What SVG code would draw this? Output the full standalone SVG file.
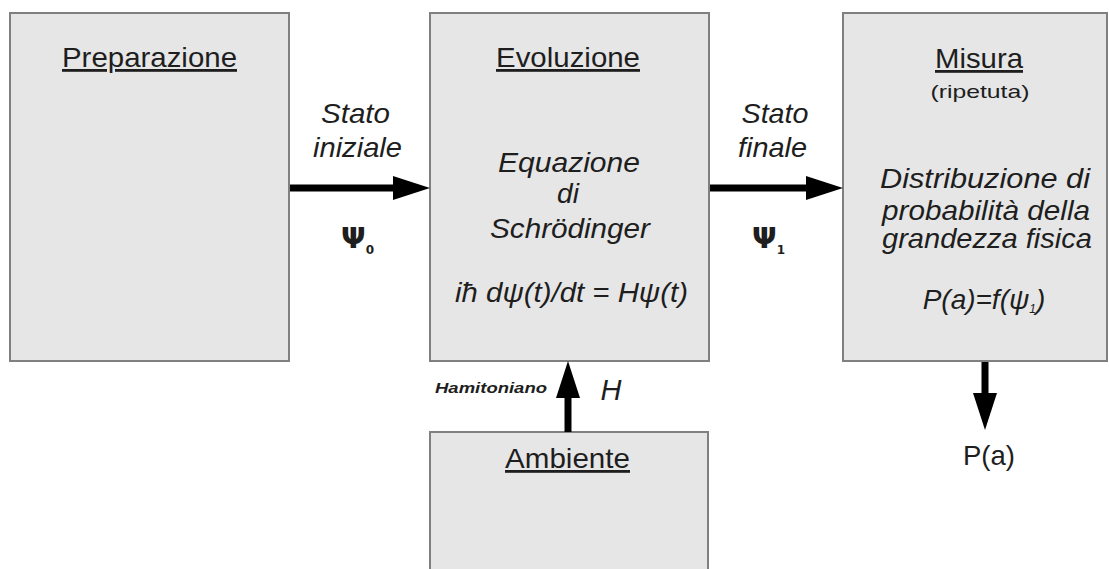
<svg xmlns="http://www.w3.org/2000/svg" width="1109" height="569" viewBox="0 0 1109 569">
<style>
  .box { fill: #e6e6e6; stroke: #808080; stroke-width: 2; }
  .t { font-family: "Liberation Sans", Arial, sans-serif; fill: #1e1e1e; text-anchor: middle; }
  .title { font-size: 28px; text-decoration: underline; }
  .it { font-size: 28px; font-style: italic; }
  .psi { font-family: "DejaVu Sans", "Liberation Sans", sans-serif; fill: #1e1e1e; font-weight: bold; }
  .conn { stroke: #000; stroke-width: 7; fill: none; marker-end: url(#head); }
</style>
<defs>
  <marker id="head" viewBox="0 0 37 24" refX="0" refY="12" markerWidth="37" markerHeight="24" markerUnits="userSpaceOnUse" orient="auto">
    <path d="M0,0 L37,12 L0,24 Z" fill="#000"/>
  </marker>
</defs>
<rect width="1109" height="569" fill="#ffffff"/>

<g id="preparazione">
  <rect class="box" x="10" y="13" width="279" height="348"/>
  <text class="t title" x="149.5" y="67" textLength="175" lengthAdjust="spacingAndGlyphs">Preparazione</text>
</g>

<g id="evoluzione">
  <rect class="box" x="430" y="13" width="279" height="348"/>
  <text class="t title" x="568" y="67" textLength="144" lengthAdjust="spacingAndGlyphs">Evoluzione</text>
  <text class="t it" x="569" y="172" textLength="142" lengthAdjust="spacingAndGlyphs">Equazione</text>
  <text class="t it" x="568" y="203">di</text>
  <text class="t it" x="570" y="238" textLength="160" lengthAdjust="spacingAndGlyphs">Schrödinger</text>
  <text class="t it" x="571.5" y="302" textLength="233" lengthAdjust="spacingAndGlyphs">iħ dψ(t)/dt = Hψ(t)</text>
</g>

<g id="misura">
  <rect class="box" x="843" y="13" width="264" height="348"/>
  <text class="t title" x="979" y="68" textLength="88" lengthAdjust="spacingAndGlyphs">Misura</text>
  <text class="t" x="980" y="98" font-size="19" textLength="99" lengthAdjust="spacingAndGlyphs">(ripetuta)</text>
  <text class="t it" x="985" y="188" textLength="210" lengthAdjust="spacingAndGlyphs">Distribuzione di</text>
  <text class="t it" x="986" y="220" textLength="208" lengthAdjust="spacingAndGlyphs">probabilità della</text>
  <text class="t it" x="987" y="248" textLength="210" lengthAdjust="spacingAndGlyphs">grandezza fisica</text>
  <text class="t it" x="984" y="309">P(a)=f(ψ<tspan font-size="12" dy="4">1</tspan><tspan dy="-4">)</tspan></text>
</g>

<g id="ambiente">
  <rect class="box" x="430" y="432" width="278" height="150"/>
  <text class="t title" x="567.5" y="468" textLength="125" lengthAdjust="spacingAndGlyphs">Ambiente</text>
</g>

<g id="connectors">
  <line class="conn" x1="290" y1="188" x2="393" y2="188"/>
  <line class="conn" x1="710" y1="188" x2="806" y2="188"/>
  <line class="conn" x1="568" y1="432" x2="568" y2="398"/>
  <line class="conn" x1="985" y1="362" x2="985" y2="393"/>
</g>

<g id="labels">
  <text class="t it" x="355.5" y="123" textLength="69" lengthAdjust="spacingAndGlyphs">Stato</text>
  <text class="t it" x="357.5" y="157" textLength="89" lengthAdjust="spacingAndGlyphs">iniziale</text>
  <text class="psi" x="341" y="248" font-size="29">Ψ<tspan font-size="12" dy="6">0</tspan></text>
  <text class="t it" x="775" y="123" textLength="67" lengthAdjust="spacingAndGlyphs">Stato</text>
  <text class="t it" x="772.5" y="157" textLength="69" lengthAdjust="spacingAndGlyphs">finale</text>
  <text class="psi" x="752" y="248" font-size="29">Ψ<tspan font-size="12" dy="6">1</tspan></text>
  <text class="t" x="491" y="393" font-size="14" font-style="italic" font-weight="bold" textLength="112" lengthAdjust="spacingAndGlyphs">Hamitoniano</text>
  <text class="t" x="611" y="400" font-size="29" font-style="italic">H</text>
  <text class="t" x="989" y="465" font-size="28" textLength="52" lengthAdjust="spacingAndGlyphs">P(a)</text>
</g>
</svg>
